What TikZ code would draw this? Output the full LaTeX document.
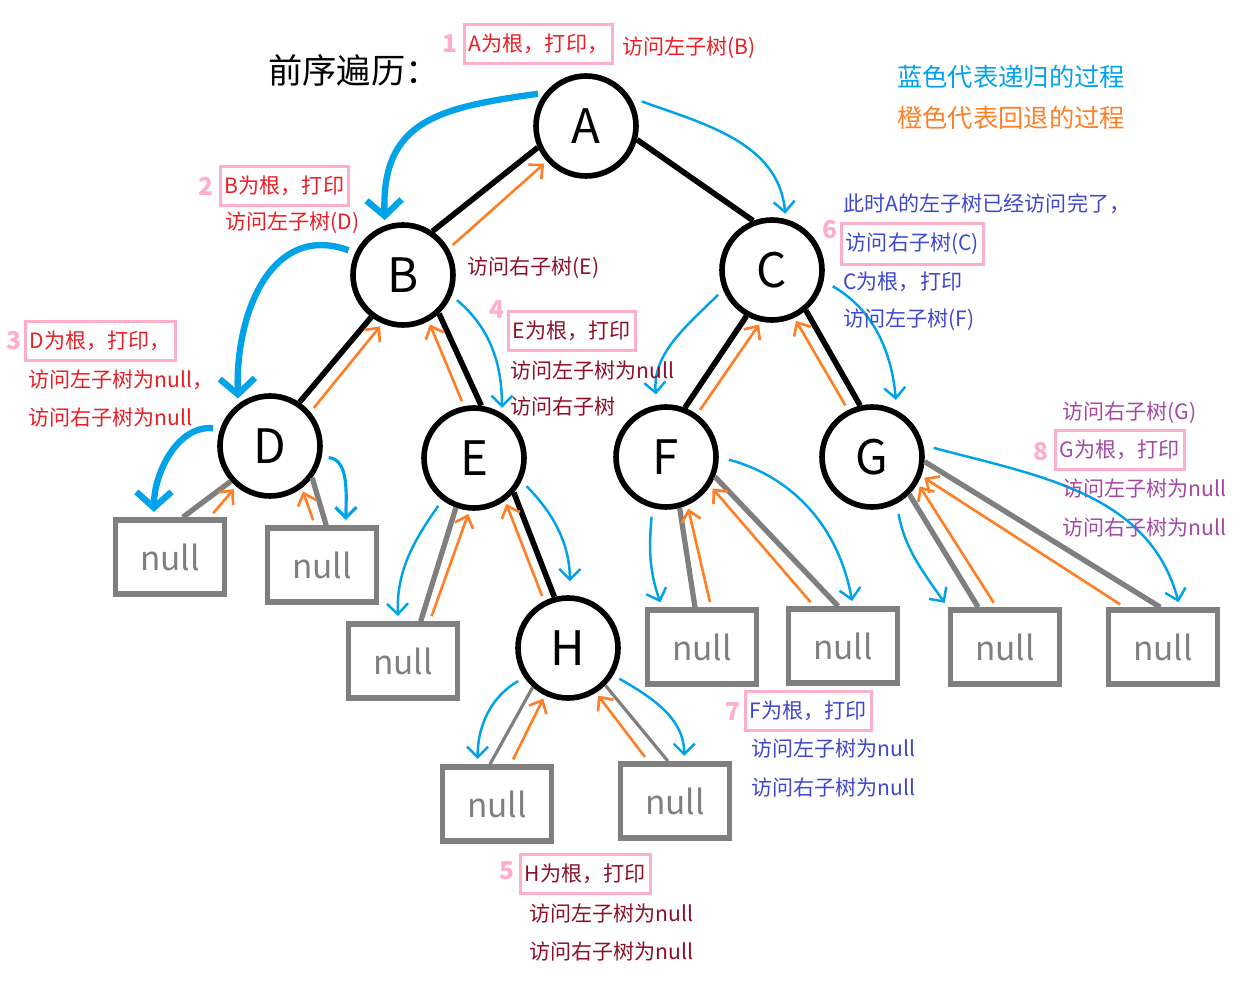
\documentclass[tikz,border=0pt]{standalone}
\usepackage{fontspec}
\setmainfont{Noto Sans CJK SC}
\usetikzlibrary{arrows.meta,positioning,calc}
\definecolor{pinkc}{HTML}{FFAEC9}
\definecolor{redc}{HTML}{ED1C24}
\definecolor{maroonc}{HTML}{8E1028}
\definecolor{indigoc}{HTML}{3F48CC}
\definecolor{purplec}{HTML}{A349A4}
\definecolor{bluec}{HTML}{00A2E8}
\definecolor{orangec}{HTML}{FF7F27}
\definecolor{grayc}{HTML}{7F7F7F}

\begin{document}
\begin{tikzpicture}[x=0.02cm, y=-0.02cm,
  font=\fontsize{12}{14}\selectfont,
  vtx/.style={circle, draw, line width=3.2pt, minimum size=2cm, inner sep=0pt, font=\fontsize{27}{30}\selectfont},
  nul/.style={draw=grayc, line width=3.2pt, minimum width=2.18cm, minimum height=1.48cm, inner sep=0pt, text=grayc, font=\fontsize{19}{22}\selectfont},
  tedge/.style={line width=3.2pt},
  nedge/.style={draw=grayc, line width=3pt},
  rec/.style={draw=bluec, line width=1.4pt, -{Straight Barb[length=6pt,width=12pt]}, shorten <=4pt, shorten >=3pt},
  recb/.style={rec, line width=3.6pt, -{Straight Barb[length=9pt,width=20pt]}},
  back/.style={draw=orangec, line width=1.5pt, -{Straight Barb[length=6pt,width=11pt]}, shorten <=3pt, shorten >=2pt},
  txt/.style={anchor=west, inner sep=0pt},
  pbox/.style={draw=pinkc, line width=1.7pt, anchor=west, inner xsep=2.5pt, inner ysep=5.5pt},
  num/.style={text=pinkc, font=\bfseries\fontsize{14}{16}\selectfont, inner sep=0pt}
]
\useasboundingbox (0,0) rectangle (1258,990);
% ---------------- tree
\node[vtx] (A) at (586,126) {A};
\node[vtx] (B) at (403,275) {B};
\node[vtx] (C) at (772,270) {C};
\node[vtx] (D) at (270,446) {D};
\node[vtx] (E) at (474,458) {E};
\node[vtx] (F) at (666,457) {F};
\node[vtx] (G) at (872,457) {G};
\node[vtx] (H) at (568,648) {H};
\node[nul] (nDl) at (170,557) {null};
\node[nul] (nDr) at (322,565) {null};
\node[nul] (nEl) at (403,661) {null};
\node[nul] (nFl) at (702,647) {null};
\node[nul] (nFr) at (843,646) {null};
\node[nul] (nGl) at (1005,647) {null};
\node[nul] (nGr) at (1163,647) {null};
\node[nul] (nHl) at (497,804) {null};
\node[nul] (nHr) at (675,801) {null};
\draw[tedge] (A.204) -- (B.56);
\draw[tedge] (A.345) -- (C.111);
\draw[tedge] (B.233) -- (D.56);
\draw[tedge] (B.313) -- (E.82);
\draw[tedge] (C.241) -- (F.69);
\draw[tedge] (C.310) -- (G.103);
\draw[tedge] (E.319) -- (H.105);
\draw[nedge] (D.222) -- (nDl.72);
\draw[nedge] (D.323) -- (nDr.84);
\draw[nedge] (E.250) -- (nEl.66);
\draw[nedge] (F.285) -- (nFl.100);
\draw[nedge] (F.338) -- (nFr.97);
\draw[nedge] (G.315) -- (nGl.124);
\draw[nedge] (G.-5) -- (nGr.94);
\draw[nedge, line width=1.8pt] (H.228) -- (nHl.100);
\draw[nedge, line width=1.8pt] (H.315) -- (nHr.100);
% ---------------- recursion (blue)
\draw[recb] (A.141) to[out=188, in=92, looseness=1.3] (B.110);
\draw[rec, shorten <=7pt] (A.33) to[out=-20, in=95] (C.75);
\draw[recb] (B.155) to[out=160, in=92, looseness=1.2] (D.127);
\draw[rec] (B.337) to[out=-40, in=90] (E.58);
\draw[recb] (D.161) to[out=175, in=90] (nDl.112);
\draw[rec, line width=1.8pt] (D.348) to[out=-5, in=90] (nDr.59);
\draw[rec] (E.233) to[out=235, in=92] (nEl.97);
\draw[rec, shorten >=8pt] (E.334) to[out=-45, in=90] (H.88);
\draw[rec, shorten >=6pt] (C.202) to[out=225, in=95] (F.100);
\draw[rec, shorten <=6pt, shorten >=6pt] (C.348) to[out=-30, in=95] (G.62);
\draw[rec, shorten <=5pt] (F.255) to[out=265, in=110] (nFl.135);
\draw[rec, shorten <=6pt] (F.0) to[out=-15, in=100] (nFr.76);
\draw[rec, shorten <=6pt] (G.298) to[out=-80, in=125] (nGl.north west);
\draw[rec, shorten <=6pt] (G.13) to[out=-15, in=105] (nGr.67);
\draw[rec] (H.214) to[out=210, in=90] (nHl.116);
\draw[rec] (H.329) to[out=-30, in=90] (nHr.77);
% ---------------- backtracking (orange)
\draw[back] (B.30) -- (A.222);
\draw[back] (D.40) -- (B.247);
\draw[back] (E.101) -- (B.299);
\draw[back] (nDl.45) -- (D.230);
\draw[back] (nDr.100) -- (D.307);
\draw[back] (nEl.56) -- (E.265);
\draw[back] (H.117) -- (E.306);
\draw[back] (F.54) -- (C.258);
\draw[back] (G.117) -- (C.295);
\draw[back] (nFl.77) -- (F.294);
\draw[back] (nFr.126) -- (F.327);
\draw[back] (nGl.102) -- (G.330);
\draw[back] (nGr.134) -- (G.339);
\draw[back] (nHl.71) -- (H.244);
\draw[back] (nHr.124) -- (H.302);
% ---------------- notes
\node[txt, font=\fontsize{19.5}{22}\selectfont] (title) at (268,70) {前序遍历：};
\node[txt, text=bluec, font=\fontsize{14.4}{16}\selectfont] (lg1) at (897,77) {蓝色代表递归的过程};
\node[txt, text=orangec, font=\fontsize{14.4}{16}\selectfont] (lg2) at (897,118) {橙色代表回退的过程};

\node[pbox, text=redc] (t1) at (463,44) {A为根，打印，};
\node[num, left=3pt of t1] (n1) {1};
\node[txt, text=redc] (t1b) at (622,48) {访问左子树(B)};

\node[pbox, text=redc] (t2) at (219,186) {B为根，打印};
\node[num, left=3pt of t2] (n2) {2};
\node[txt, text=redc] (t2b) at (225,223) {访问左子树(D)};
\node[txt, text=maroonc] (t2c) at (467,268) {访问右子树(E)};

\node[pbox, text=redc] (t3) at (24,341) {D为根，打印，};
\node[num, left=1pt of t3] (n3) {3};
\node[txt, text=redc] (t3b) at (28,380) {访问左子树为null，};
\node[txt, text=redc] (t3c) at (28,418) {访问右子树为null};

\node[pbox, text=maroonc] (t4) at (507,331) {E为根，打印};
\node[num] (n4) at (497,310) {4};
\node[txt, text=maroonc] (t4b) at (510,371) {访问左子树为null};
\node[txt, text=maroonc] (t4c) at (510,407) {访问右子树};

\node[pbox, text=maroonc] (t5) at (519,874) {H为根，打印};
\node[num] (n5) at (507,871) {5};
\node[txt, text=maroonc] (t5b) at (529,914) {访问左子树为null};
\node[txt, text=maroonc] (t5c) at (529,952) {访问右子树为null};

\node[txt, text=indigoc] (t6a) at (843,204) {此时A的左子树已经访问完了，};
\node[pbox, text=indigoc] (t6) at (840,244) {访问右子树(C)};
\node[num] (n6) at (830,230) {6};
\node[txt, text=indigoc] (t6b) at (843,282) {C为根，打印};
\node[txt, text=indigoc] (t6c) at (843,320) {访问左子树(F)};

\node[pbox, text=indigoc] (t7) at (744,711) {F为根，打印};
\node[num] (n7) at (733,712) {7};
\node[txt, text=indigoc] (t7b) at (751,749) {访问左子树为null};
\node[txt, text=indigoc] (t7c) at (751,788) {访问右子树为null};

\node[txt, text=purplec] (t8a) at (1062,413) {访问右子树(G)};
\node[pbox, text=purplec] (t8) at (1054,450) {G为根，打印};
\node[num] (n8) at (1041,452) {8};
\node[txt, text=purplec] (t8b) at (1062,489) {访问左子树为null};
\node[txt, text=purplec] (t8c) at (1062,528) {访问右子树为null};
\end{tikzpicture}
\end{document}
